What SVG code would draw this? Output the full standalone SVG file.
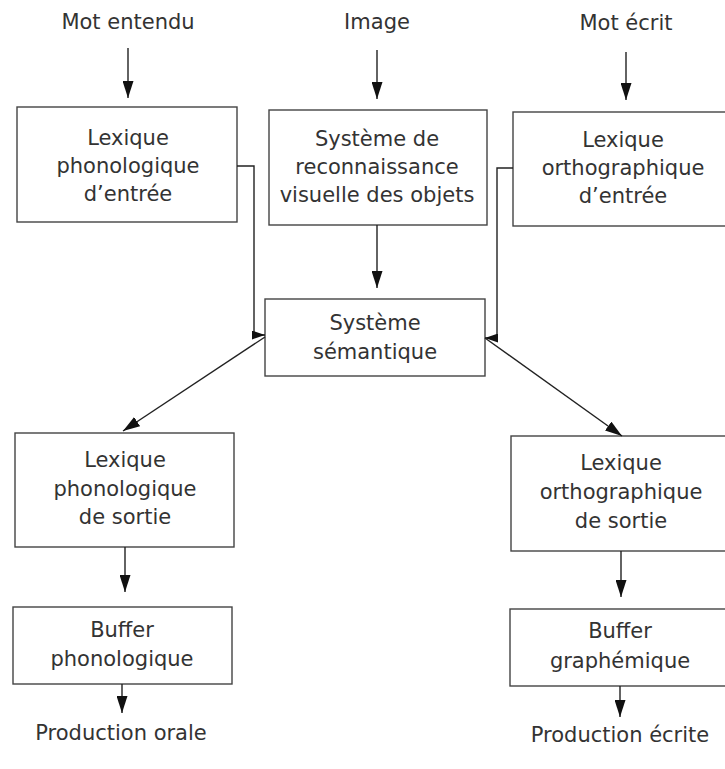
<svg xmlns="http://www.w3.org/2000/svg" width="725" height="769" viewBox="0 0 725 769">
  <style>
    .box { fill: #ffffff; stroke: #444444; stroke-width: 1.4; }
    .lbl { font-family: "DejaVu Sans", "Liberation Sans", sans-serif; font-size: 21px; fill: #333333; text-anchor: middle; }
    .conn { fill: none; stroke: #222222; stroke-width: 1.4; }
    .arr { marker-end: url(#ah); }
    .arrs { marker-end: url(#ahs); }
  </style>
  <defs>
    <marker id="ah" markerUnits="userSpaceOnUse" markerWidth="17" markerHeight="11" refX="17" refY="5.5" orient="auto">
      <path d="M0,0 L17,5.5 L0,11 z" fill="#111111"/>
    </marker>
    <marker id="ahs" markerUnits="userSpaceOnUse" markerWidth="13" markerHeight="9" refX="13" refY="4.5" orient="auto">
      <path d="M0,0 L13,4.5 L0,9 z" fill="#111111"/>
    </marker>
  </defs>
  <rect width="725" height="769" fill="#ffffff"/>

  <g id="in-mot-entendu"><text class="lbl" x="128" y="29">Mot entendu</text></g>
  <g id="in-image"><text class="lbl" x="377" y="29">Image</text></g>
  <g id="in-mot-ecrit"><text class="lbl" x="626" y="30">Mot écrit</text></g>

  <g id="lex-phon-entree">
    <rect class="box" x="17" y="107" width="220" height="115"/>
    <text class="lbl" x="128" y="145">Lexique</text>
    <text class="lbl" x="128" y="173">phonologique</text>
    <text class="lbl" x="128" y="201">d’entrée</text>
  </g>
  <g id="reco-visuelle">
    <rect class="box" x="269" y="110" width="218" height="115"/>
    <text class="lbl" x="377" y="146">Système de</text>
    <text class="lbl" x="377" y="174">reconnaissance</text>
    <text class="lbl" x="377" y="202">visuelle des objets</text>
  </g>
  <g id="lex-ortho-entree">
    <rect class="box" x="513" y="112" width="220" height="114"/>
    <text class="lbl" x="623" y="147">Lexique</text>
    <text class="lbl" x="623" y="175">orthographique</text>
    <text class="lbl" x="623" y="203">d’entrée</text>
  </g>
  <g id="semantique">
    <rect class="box" x="265" y="299" width="220" height="77"/>
    <text class="lbl" x="375" y="330">Système</text>
    <text class="lbl" x="375" y="359">sémantique</text>
  </g>
  <g id="lex-phon-sortie">
    <rect class="box" x="15" y="433" width="219" height="114"/>
    <text class="lbl" x="125" y="467">Lexique</text>
    <text class="lbl" x="125" y="496">phonologique</text>
    <text class="lbl" x="125" y="524">de sortie</text>
  </g>
  <g id="lex-ortho-sortie">
    <rect class="box" x="511" y="436" width="222" height="115"/>
    <text class="lbl" x="621" y="470">Lexique</text>
    <text class="lbl" x="621" y="499">orthographique</text>
    <text class="lbl" x="621" y="528">de sortie</text>
  </g>
  <g id="buffer-phon">
    <rect class="box" x="13" y="607" width="219" height="77"/>
    <text class="lbl" x="122" y="637">Buffer</text>
    <text class="lbl" x="122" y="666">phonologique</text>
  </g>
  <g id="buffer-graph">
    <rect class="box" x="510" y="609" width="223" height="77"/>
    <text class="lbl" x="620" y="638">Buffer</text>
    <text class="lbl" x="620" y="668">graphémique</text>
  </g>
  <g id="out-orale"><text class="lbl" x="121" y="740">Production orale</text></g>
  <g id="out-ecrite"><text class="lbl" x="620" y="742">Production écrite</text></g>

  <g id="connectors">
    <path class="conn arr" d="M128,48 V98"/>
    <path class="conn arr" d="M377,50 V99"/>
    <path class="conn arr" d="M626,52 V100"/>
    <path class="conn arr" d="M377,225 V288"/>
    <path class="conn arrs" d="M237,166 H254 V335 H265"/>
    <path class="conn arrs" d="M513,168 H497 V338 H485"/>
    <path class="conn arr" d="M265,337 L123,431"/>
    <path class="conn arr" d="M485,338 L622,436"/>
    <path class="conn arr" d="M125,547 V592"/>
    <path class="conn arr" d="M122,684 V713"/>
    <path class="conn arr" d="M621,551 V597"/>
    <path class="conn arr" d="M620,686 V717"/>
  </g>
</svg>
